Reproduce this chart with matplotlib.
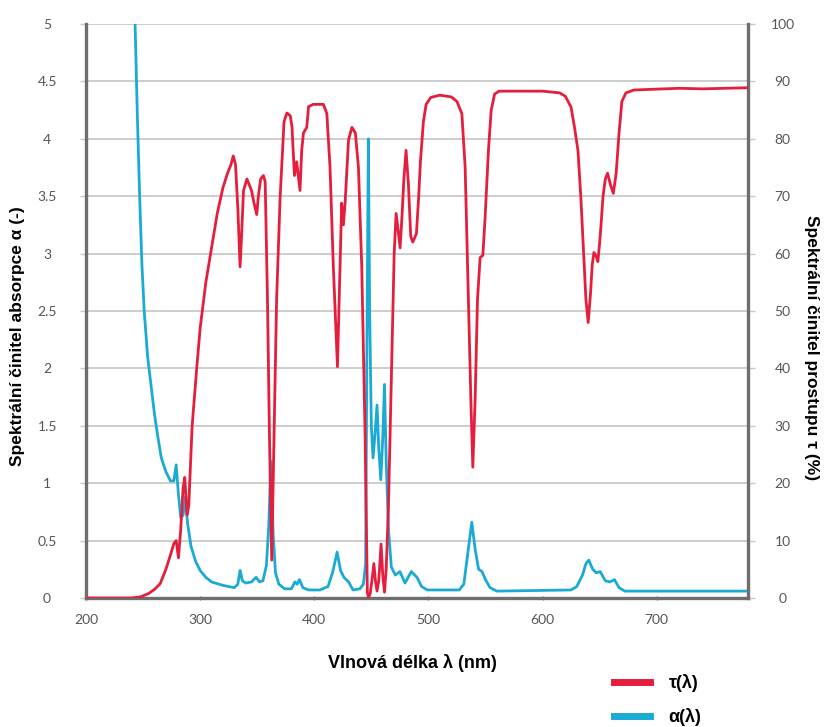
import matplotlib
matplotlib.use("Agg")
import matplotlib.pyplot as plt
from matplotlib.lines import Line2D

# ---- data ----
wl_tau = [200, 240, 248, 255, 260, 265, 270, 274, 277, 279, 281, 283, 285, 286.5, 288.5, 290,
          293, 297, 300, 305, 310, 315, 320, 324, 327, 329, 331, 333, 335, 336.5, 338, 341, 345,
          347, 349.6, 351, 353, 355.4, 357, 359, 360.7, 362.7, 364.8, 367, 370, 373.5, 376, 379,
          380.5, 382.6, 384.6, 387.5, 389, 390.5, 393.4, 395, 399, 408, 411, 413.8, 416.7, 420.3,
          422.6, 424, 425.5, 427, 430, 433, 436, 438.7, 441.6, 444.5, 446.5, 447.5, 449, 450.5,
          452.2, 453.6, 455, 456.5, 458.5, 460, 461.5, 463, 465, 468, 470, 471.7, 473.5, 475.2,
          477, 478.5, 480.4, 482.5, 484.5, 486.3, 489.5, 491.5, 493, 495.6, 498, 502, 510, 520,
          525, 529.3, 532.2, 535, 537.2, 538.9, 540.9, 543, 545.3, 547.7, 549.7, 552.6, 555, 558,
          562, 600, 615, 620, 625, 628, 631, 633.5, 636, 638, 640, 642, 643.5, 645, 647, 648.5,
          650.5, 653, 655, 657, 659.5, 662, 664.5, 667, 669.5, 673, 680, 720, 740, 760, 780]
tau = [0, 0, 0.2, 0.8, 1.5, 2.5, 5, 7.5, 9.5, 10, 7, 12, 19, 21, 14.5, 16,
       30, 40, 47, 55, 61, 67, 71.5, 74, 75.5, 77, 75.5, 68, 57.7, 64, 71, 73, 71,
       69, 66.8, 70, 73, 73.6, 72.5, 52, 28.6, 6.6, 28.6, 52, 69.4, 83, 84.5, 84,
       82, 73.6, 76, 71, 78, 81, 82, 85.6, 86, 86, 84.4, 75, 57.7, 40.3,
       57.7, 68.8, 65, 68.8, 79.8, 82, 81, 75, 57.7, 28.6, 1, 0, 0.8, 3,
       6, 3, 1.2, 3, 9.4, 4, 1, 5, 16, 42.6, 60, 67, 64, 61,
       67, 73, 78, 72, 63, 62, 63.5, 70, 76, 83, 86, 87.2, 87.6, 87.3,
       86.5, 84.4, 75, 52, 34.4, 22.8, 34.4, 52, 59.3, 59.7, 66.4, 78, 85, 87.8,
       88.3, 88.3, 88, 87.4, 85.5, 82, 78, 70, 60, 52, 48, 53, 58, 60.2, 59.5, 58.6,
       63, 70, 73, 74, 72, 70.5, 74, 81, 86.5, 88, 88.5, 88.8, 88.7, 88.8, 88.9]

wl_alpha = [241, 243, 245, 247, 249, 251, 254, 257, 260, 263, 266, 270, 274, 277, 279, 281, 283,
            285, 287, 289, 292, 296, 300, 305, 310, 320, 330, 333, 335, 337, 340, 345, 349, 352,
            355, 358, 360, 362, 364, 366, 369, 374, 380, 383, 385, 387, 390, 395, 405, 412, 416,
            420, 423, 426, 430, 434, 440, 443, 445, 446, 447.4, 448.5, 450, 451.5, 453, 455,
            456.5, 458.3, 460, 461.5, 463, 465, 467.5, 471, 475, 479.5, 485, 490, 494, 499, 527,
            531, 534, 538, 541, 544, 547, 550, 554, 560, 625, 630, 635, 638, 640.5, 644, 647,
            650.5, 655, 659, 663, 667, 672, 780]
alpha = [5.6, 5.0, 4.2, 3.5, 2.9, 2.5, 2.1, 1.85, 1.6, 1.4, 1.22, 1.1, 1.02, 1.02, 1.16, 0.9, 0.7,
         0.72, 0.88, 0.65, 0.45, 0.32, 0.24, 0.18, 0.14, 0.11, 0.09, 0.12, 0.24, 0.15, 0.13, 0.14,
         0.18, 0.14, 0.15, 0.28, 0.6, 1.19, 0.55, 0.22, 0.12, 0.08, 0.08, 0.14, 0.12, 0.16, 0.09,
         0.07, 0.07, 0.1, 0.22, 0.4, 0.24, 0.18, 0.14, 0.07, 0.08, 0.12, 0.3, 2.0, 4.0, 2.5, 1.5,
         1.22, 1.4, 1.68, 1.3, 1.03, 1.4, 1.86, 1.2, 0.6, 0.27, 0.2, 0.23, 0.13, 0.23, 0.18, 0.1,
         0.07, 0.07, 0.12, 0.35, 0.66, 0.42, 0.25, 0.23, 0.16, 0.09, 0.06, 0.07, 0.1, 0.2, 0.3,
         0.33, 0.25, 0.22, 0.23, 0.15, 0.14, 0.16, 0.09, 0.06, 0.06]

x_ticks = [200, 300, 400, 500, 600, 700]
alpha_ticks = [0, 0.5, 1, 1.5, 2, 2.5, 3, 3.5, 4, 4.5, 5]
alpha_tick_labels = ["0", "0.5", "1", "1.5", "2", "2.5", "3", "3.5", "4", "4.5", "5"]
tau_ticks = [0, 10, 20, 30, 40, 50, 60, 70, 80, 90, 100]

RED = "#E41E3C"
BLUE = "#1AAAD4"
SPINE = "#6e6e6e"
GRID = "#c9c9c9"
TICKC = "#555555"

fig = plt.figure(figsize=(8.25, 7.27), dpi=100)
ax = fig.add_axes([86/825, 1 - 598/727, (748-86)/825, (598-24)/727])
ax2 = ax.twinx()

ax.plot(wl_alpha, alpha, color=BLUE, lw=2.0, solid_joinstyle="round", zorder=3)
ax2.plot(wl_tau, tau, color=RED, lw=2.0, solid_joinstyle="round", zorder=3)

ax.set_xlim(200, 780)
ax.set_ylim(0, 5)
ax2.set_ylim(0, 100)

ax.set_xticks(x_ticks)
ax.set_yticks(alpha_ticks)
ax.set_yticklabels(alpha_tick_labels)
ax2.set_yticks(tau_ticks)

ax.grid(axis="y", color=GRID, lw=1.3, zorder=0)
ax.set_axisbelow(True)

ax.spines["top"].set_visible(False)
ax2.spines["top"].set_visible(False)
ax2.spines["left"].set_visible(False)
ax2.spines["bottom"].set_visible(False)
ax.spines["right"].set_visible(False)
for a, s in ((ax, "left"), (ax, "bottom"), (ax2, "right")):
    a.spines[s].set_color(SPINE)
    a.spines[s].set_linewidth(2.4)

ax.tick_params(axis="y", length=4, width=1, color=GRID, pad=24)
ax.tick_params(axis="x", length=3, width=1, color=SPINE, direction="inout", pad=10)
ax2.tick_params(axis="y", length=5, width=1, color=GRID, pad=20)

for lab in list(ax.get_yticklabels()) + list(ax2.get_yticklabels()):
    lab.set_fontfamily(["Lato", "DejaVu Sans"]); lab.set_fontsize(10); lab.set_color(TICKC)
    lab.set_horizontalalignment("center")
for lab in ax.get_xticklabels():
    lab.set_fontfamily(["Lato", "DejaVu Sans"]); lab.set_fontsize(10); lab.set_color(TICKC)

lab_font = dict(family=["Liberation Sans", "DejaVu Sans"], weight="bold", size=12.5, color="black")
fig.text(18/825, 1 - 336/727, "Spektrální činitel absorpce α (-)", rotation=90,
         ha="center", va="center", **lab_font)
fig.text(812/825, 1 - 348/727, "Spektrální činitel prostupu τ (%)", rotation=-90,
         ha="center", va="center", **lab_font)
narrow = dict(family=["Liberation Sans Narrow", "Liberation Sans", "DejaVu Sans"], weight="bold",
              size=13, color="black")
fig.text(412/825, 1 - 663/727, "Vlnová délka λ (nm)", ha="center", va="center", **narrow)

handles = [Line2D([], [], color=RED, lw=5), Line2D([], [], color=BLUE, lw=5)]
leg = fig.legend(handles, ["τ(λ)", "α(λ)"], loc="center left",
                 bbox_to_anchor=(598/825, 1 - 700/727), frameon=False,
                 handlelength=2.0, handletextpad=1.0, labelspacing=0.9,
                 prop=dict(family=["Liberation Sans Narrow", "Liberation Sans", "DejaVu Sans"],
                           weight="bold", size=13))

fig.savefig("out.png", dpi=100, facecolor="white")
